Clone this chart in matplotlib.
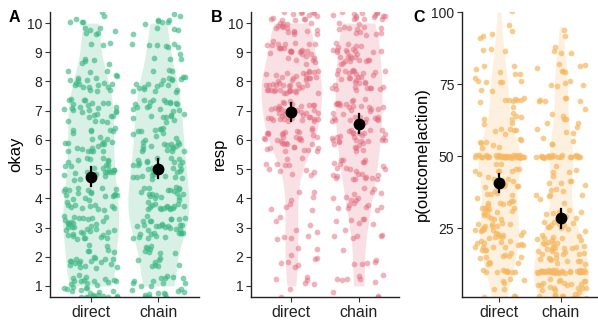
import numpy as np
import matplotlib
matplotlib.use("Agg")
import matplotlib.pyplot as plt

plt.rcParams['font.family'] = ['Liberation Sans', 'DejaVu Sans']

# ---- data: response counts per level ----
groups = ['direct', 'chain']

okay_levels = [1, 2, 3, 4, 5, 6, 7, 8, 9, 10]
okay_direct = [34, 24, 36, 30, 27, 25, 28, 22, 8, 13]
okay_chain = [24, 16, 34, 35, 30, 27, 26, 22, 11, 12]

resp_levels = [1, 2, 3, 4, 5, 6, 7, 8, 9, 10]
resp_direct = [7, 9, 9, 8, 12, 35, 40, 45, 30, 30]
resp_chain = [10, 6, 12, 18, 25, 30, 32, 32, 28, 28]

prob_levels = [0, 5, 10, 15, 20, 25, 30, 35, 40, 45, 50,
               55, 60, 65, 70, 75, 80, 85, 90, 95, 100]
prob_direct = [8, 6, 10, 14, 16, 18, 14, 12, 12, 10, 35,
               8, 8, 6, 8, 8, 6, 3, 3, 2, 2]
prob_chain = [28, 20, 35, 18, 20, 12, 10, 6, 8, 5, 22,
              4, 6, 5, 6, 5, 7, 3, 2, 1, 0]
# levels answered exactly (no spread around them in the picture)
prob_exact = [10, 50]

colors = {'A': '#3DB883', 'B': '#E2677A', 'C': '#F5B860'}
point_alpha = {'A': 0.65, 'B': 0.5, 'C': 0.7}

# deterministic hash jitter in [-1, 1]
_k = [0]
def jitter(n):
    i = np.arange(_k[0], _k[0] + n, dtype=float) + 1.0
    _k[0] += n
    u = (np.sin(i * 12.9898) * 43758.5453) % 1.0
    v = (np.sin(i * 78.233) * 24634.6345) % 1.0
    return u * 2 - 1, v * 2 - 1


def kde(vals):
    vals = np.asarray(vals, float)
    n = len(vals)
    q75, q25 = np.quantile(vals, [0.75, 0.25])
    bw = 0.9 * min(vals.std(ddof=1), (q75 - q25) / 1.34) * n ** -0.2
    grid = np.linspace(vals.min(), vals.max(), 512)
    d = np.exp(-0.5 * ((grid[:, None] - vals[None, :]) / bw) ** 2).sum(1)
    d /= n * bw * np.sqrt(2 * np.pi)
    return grid, d


def panel(fig, rect, levels, counts_list, key, ylim, yticks, ylabel,
          letter_x, ylabel_x, yjit, exact=()):
    color = colors[key]
    ax = fig.add_axes(rect)
    data = [np.repeat(levels, c) for c in counts_list]
    dens = [kde(d) for d in data]
    dmax = max(d.max() for g, d in dens)
    for i, (vals, (g, d)) in enumerate(zip(data, dens)):
        x = i + 1
        w = d / dmax * 0.45
        ax.fill_betweenx(g, x - w, x + w, color=color, alpha=0.2, lw=0, zorder=1)
        jx, jy = jitter(len(vals))
        h = np.where(np.isin(vals, exact), yjit * 0.2, yjit)
        ax.scatter(x + jx * 0.4, vals + jy * h, s=17, color=color,
                   alpha=point_alpha[key], lw=0, zorder=2)
        m = vals.mean()
        ci = 1.96 * vals.std(ddof=1) / np.sqrt(len(vals))
        ax.plot([x, x], [m - ci, m + ci], color='black', lw=1.6, zorder=3)
        ax.plot(x, m, 'o', color='black', ms=7.5, zorder=4)
    ax.set_xlim(0.4, 2.6)
    ax.set_ylim(*ylim)
    ax.set_xticks([1, 2])
    ax.set_xticklabels(groups, fontsize=11.5, color='#222222')
    ax.set_yticks(yticks)
    ax.set_yticklabels([str(t) for t in yticks], fontsize=10, color='#222222')
    for s in ['top', 'right']:
        ax.spines[s].set_visible(False)
    for s in ['left', 'bottom']:
        ax.spines[s].set_linewidth(1.0)
        ax.spines[s].set_color('#222222')
    ax.tick_params(length=3.5, width=0.8, color='#333333', pad=2)
    fig.text(letter_x / 598, 1 - 18 / 320, key, fontsize=11.5,
             fontweight='bold', ha='left', va='center')
    fig.text(ylabel_x / 598, 1 - 154 / 320, ylabel, fontsize=12,
             rotation=90, ha='center', va='center')
    return ax


fig = plt.figure(figsize=(5.98, 3.2), dpi=100)
bottom, height = 1 - 297 / 320, 285 / 320

panel(fig, [50 / 598, bottom, 149 / 598, height], okay_levels,
      [okay_direct, okay_chain], 'A', (0.62, 10.38),
      list(range(1, 11)), 'okay', 9, 16, 0.4)
panel(fig, [251 / 598, bottom, 148 / 598, height], resp_levels,
      [resp_direct, resp_chain], 'B', (0.62, 10.38),
      list(range(1, 11)), 'resp', 211, 219, 0.4)
panel(fig, [462 / 598, bottom, 136 / 598, height], prob_levels,
      [prob_direct, prob_chain], 'C', (1.2, 100),
      [25, 50, 75, 100], 'p(outcome|action)', 413, 422, 2.4,
      exact=prob_exact)

fig.savefig('out.png', dpi=100)
